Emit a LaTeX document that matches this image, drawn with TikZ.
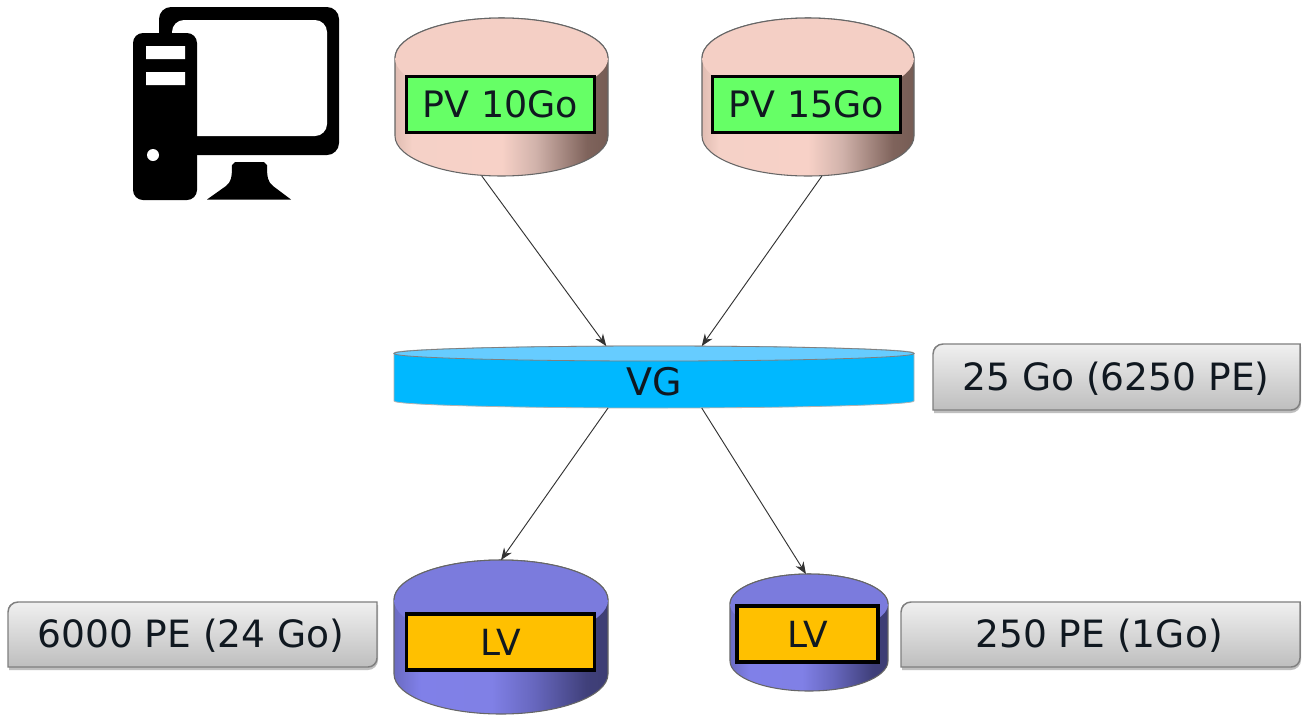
\documentclass[tikz,border=0pt]{standalone}
\usepackage{fontspec}
\setmainfont{DejaVu Sans}
\usetikzlibrary{arrows.meta,calc}
\pgfdeclarehorizontalshading{pinkside}{100bp}{rgb(0bp)=(0.88,0.74,0.70); rgb(25bp)=(0.88,0.74,0.70); rgb(29bp)=(0.96,0.82,0.78); rgb(50bp)=(0.97,0.82,0.78); rgb(58bp)=(0.82,0.70,0.67); rgb(70bp)=(0.50,0.39,0.36); rgb(75bp)=(0.46,0.36,0.33); rgb(100bp)=(0.46,0.36,0.33)}
\pgfdeclarehorizontalshading{blueside}{100bp}{rgb(0bp)=(0.42,0.42,0.76); rgb(25bp)=(0.42,0.42,0.76); rgb(31bp)=(0.50,0.50,0.91); rgb(48bp)=(0.50,0.50,0.90); rgb(58bp)=(0.40,0.40,0.74); rgb(70bp)=(0.25,0.25,0.48); rgb(75bp)=(0.24,0.24,0.45); rgb(100bp)=(0.24,0.24,0.45)}
\definecolor{pinktop}{HTML}{F4CFC5}
\definecolor{bluetop}{HTML}{7B7BDD}
\definecolor{vgside}{HTML}{00B8FF}
\definecolor{vgtop}{HTML}{66CCFF}
\definecolor{pvgreen}{HTML}{66FF66}
\definecolor{lvorange}{HTML}{FFC000}
\definecolor{rimgrey}{HTML}{7F7F7F}
\definecolor{boxtop}{HTML}{F0F0F0}
\definecolor{boxbot}{HTML}{BEBEBE}
\definecolor{inkdark}{HTML}{101820}
\tikzset{
  x=0.75pt,y=-0.75pt,
  anchorbox/.style={rectangle,inner sep=0pt,outer sep=0pt},
  pvbox/.style={rectangle,draw=black,line width=2.6pt,fill=pvgreen,inner sep=0pt,text=inkdark,font=\fontsize{27.3}{30}\selectfont},
  lvbox/.style={rectangle,draw=black,line width=2.6pt,fill=lvorange,inner sep=0pt,text=inkdark,font=\fontsize{27}{30}\selectfont},
  infotext/.style={inner sep=0pt,text=inkdark,font=\fontsize{28.2}{30}\selectfont},
  vgtext/.style={inner sep=0pt,text=inkdark,font=\fontsize{28.5}{30}\selectfont},
  rim/.style={draw=rimgrey!80!black,line width=0.8pt},
  arr/.style={draw=black!80,line width=0.7pt,-{Stealth[length=9pt,width=7pt]}},
}
% #1 left  #2 right  #3 top  #4 bottom  #5 ry  #6 side shading  #7 top colour
\newcommand{\diskbody}[7]{%
  \pgfmathsetmacro{\dcx}{(#1+#2)/2}\pgfmathsetmacro{\drx}{(#2-#1)/2}%
  \pgfmathsetmacro{\dtop}{#3+#5}\pgfmathsetmacro{\dbot}{#4-#5}%
  \shade[shading=#6,rim] (#1,\dtop) -- (#1,\dbot) arc[start angle=180,end angle=0,x radius=\drx,y radius=#5] -- (#2,\dtop) arc[start angle=0,end angle=-180,x radius=\drx,y radius=#5] -- cycle;
  \fill[#7] (\dcx,\dtop) ellipse[x radius=\drx,y radius=#5];
  \draw[rim] (#2,\dtop) arc[start angle=0,end angle=-180,x radius=\drx,y radius=#5];
}
% #1 left  #2 right  #3 top  #4 bottom
\newcommand{\infoplate}[4]{%
  \fill[black!25] (#1+1,#3+3) -- (#2+1,#3+3) -- (#2+1,#4-7) arc[start angle=0,end angle=90,radius=10] -- (#1+1,#4+3) -- cycle;
  \shade[top color=boxtop,bottom color=boxbot,draw=rimgrey,line width=1.1pt] (#1+10,#3) -- (#2,#3) -- (#2,#4-9) arc[start angle=0,end angle=90,radius=9] -- (#1,#4) -- (#1,#3+10) arc[start angle=180,end angle=270,radius=10] -- cycle;
}
\begin{document}
\begin{tikzpicture}
\useasboundingbox (0,0) rectangle (1302,715);
\fill[white] (0,0) rectangle (1302,715);

% computer icon
\fill[black] (159,155) -- (159,19) arc[start angle=180,end angle=270,radius=12] -- (327,7) arc[start angle=270,end angle=360,radius=12] -- (339,143) arc[start angle=0,end angle=90,radius=12] -- cycle;
\fill[white] (172,136) -- (172,32) arc[start angle=180,end angle=270,radius=12] -- (315,20) arc[start angle=270,end angle=360,radius=12] -- (327,124) arc[start angle=0,end angle=90,radius=12] -- cycle;
\fill[black] (133,43) arc[start angle=180,end angle=270,radius=10] -- (187,33) arc[start angle=270,end angle=360,radius=10] -- (197,190) arc[start angle=0,end angle=90,radius=10] -- (143,200) arc[start angle=90,end angle=180,radius=10] -- cycle;
\fill[white] (146,46) rectangle (185,59) (146,72) rectangle (185,85) (153,155) circle[radius=6];
\fill[black] (207,199.5) -- (226,186) .. controls (231,182) and (232,178) .. (232,165) -- (235,162) -- (264,162) -- (267,165) .. controls (267,178) and (268,182) .. (273,186) -- (291,199.5) -- cycle;

% cylinders
\diskbody{395}{608}{18}{176}{40}{pinkside}{pinktop}
\diskbody{702}{914}{18}{176}{40}{pinkside}{pinktop}
\diskbody{394}{608}{560}{714}{40}{blueside}{bluetop}
\diskbody{730}{888}{574}{691}{30}{blueside}{bluetop}
\node[anchorbox,minimum width=213*0.75pt,minimum height=158*0.75pt] (pv1) at (501.5,97) {};
\node[anchorbox,minimum width=212*0.75pt,minimum height=158*0.75pt] (pv2) at (808,97) {};
\node[anchorbox,minimum width=214*0.75pt,minimum height=154*0.75pt] (lv1) at (501,637) {};
\node[anchorbox,minimum width=158*0.75pt,minimum height=117*0.75pt] (lv2) at (809,632.5) {};

% VG
\filldraw[fill=vgside,draw=rimgrey!60,line width=0.6pt] (394,353) -- (394,401) arc[start angle=180,end angle=0,x radius=260,y radius=7] -- (914,353) arc[start angle=0,end angle=-180,x radius=260,y radius=7] -- cycle;
\filldraw[fill=vgtop,draw=rimgrey,line width=0.6pt] (654,353.5) ellipse[x radius=260,y radius=7.5];
\node[anchorbox,minimum width=520*0.75pt,minimum height=62*0.75pt] (vg) at (654,377) {};
\node[vgtext] (vglabel) at (654,382) {VG};

% labelled bands
\node[pvbox,minimum width=188*0.75pt,minimum height=56*0.75pt] (pv1t) at (500.5,104.5) {PV 10Go};
\node[pvbox,minimum width=188*0.75pt,minimum height=56*0.75pt] (pv2t) at (806.5,104.5) {PV 15Go};
\node[lvbox,minimum width=188*0.75pt,minimum height=56*0.75pt] (lv1t) at (500.5,642) {LV};
\node[lvbox,minimum width=141*0.75pt,minimum height=56*0.75pt] (lv2t) at (807.5,634) {LV};

% info plates
\infoplate{933}{1300}{344}{410}
\node[infotext] (info1) at (1116,379) {25 Go (6250 PE)};
\infoplate{8}{377}{602}{667}
\node[infotext] (info2) at (191,636) {6000 PE (24 Go)};
\infoplate{901}{1300}{602}{667}
\node[infotext] (info3) at (1099,636) {250 PE (1Go)};

% connectors
\draw[arr] (pv1.-104) -- (vg.147);
\draw[arr] (pv2.-80) -- (vg.33.4);
\draw[arr] (vg.-146.6) -- (lv1.90);
\draw[arr] (vg.-33.4) -- (lv2.93);
\end{tikzpicture}
\end{document}
